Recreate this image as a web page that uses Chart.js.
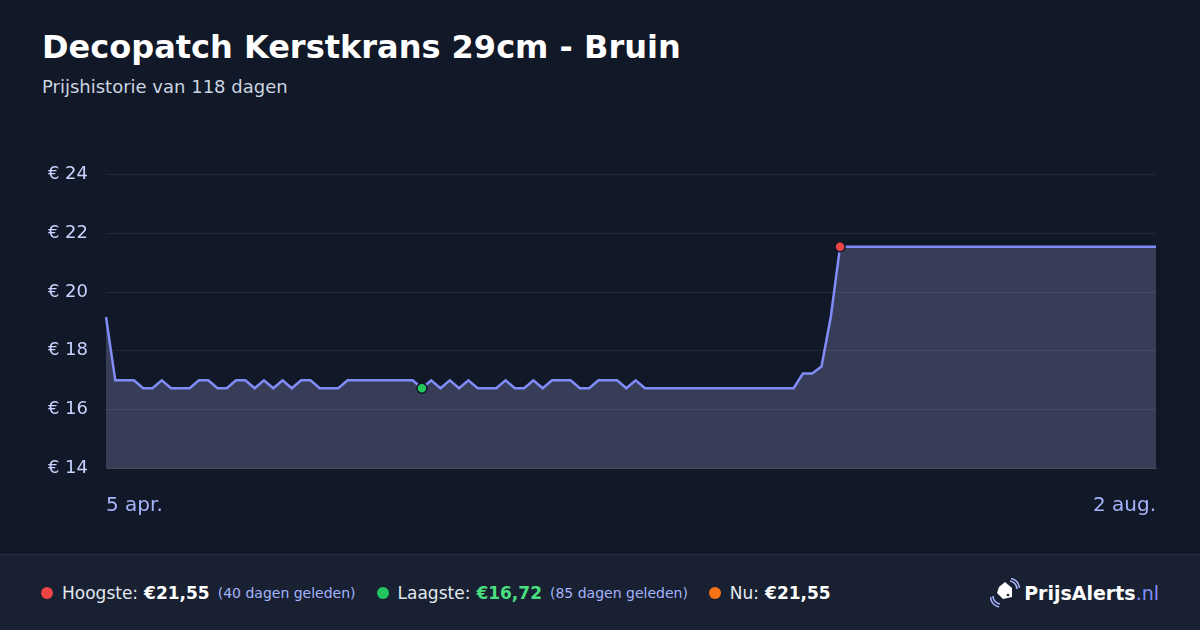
<!DOCTYPE html>
<html>
<head>
<meta charset="utf-8">
<script src="https://cdn.jsdelivr.net/npm/chart.js@4"></script>
<style>
    html, body {
        margin: 0;
        padding: 0;
        width: 1200px;
        height: 630px;
        overflow: hidden;
        background: #111827;
        font-family: "DejaVu Sans", sans-serif;
    }
    .title {
        position: absolute;
        left: 42px;
        top: 28px;
        font-size: 32px;
        font-weight: bold;
        color: #ffffff;
    }
    .subtitle {
        position: absolute;
        left: 42px;
        top: 76px;
        font-size: 18px;
        color: #cbd5e1;
    }
    .chart-box {
        position: absolute;
        left: 0;
        top: 146px;
        width: 1200px;
        height: 384px;
    }
    .footer {
        position: absolute;
        left: 0;
        top: 554px;
        width: 1200px;
        height: 76px;
        background: #182031;
        border-top: 1px solid #252e48;
        box-sizing: border-box;
    }
    .stats {
        position: absolute;
        left: 41px;
        top: 0;
        height: 75px;
        display: flex;
        align-items: center;
        color: #e2e8f0;
        font-size: 17px;
    }
    .stat {
        display: flex;
        align-items: center;
        margin-right: 21px;
        white-space: nowrap;
    }
    .dot {
        width: 12px;
        height: 12px;
        border-radius: 50%;
        margin-right: 9px;
    }
    .stat b {
        color: #ffffff;
        margin-left: 6px;
    }
    .stat .ago {
        font-size: 14px;
        color: #a5b4fc;
        margin-left: 8px;
    }
    .logo {
        position: absolute;
        right: 41px;
        top: 0;
        height: 75px;
        display: flex;
        align-items: center;
        font-size: 19px;
        font-weight: bold;
        color: #ffffff;
    }
    .logo svg {
        margin-right: 4px;
    }
    .logo span {
        font-weight: normal;
        color: #818cf8;
    }
</style>
</head>
<body>
<div class="title">Decopatch Kerstkrans 29cm - Bruin</div>
<div class="subtitle">Prijshistorie van 118 dagen</div>
<div class="chart-box"><canvas id="priceChart" width="1200" height="384"></canvas></div>
<div class="footer">
    <div class="stats">
        <div class="stat"><div class="dot" style="background:#ef4444"></div>Hoogste:<b>€21,55</b><span class="ago">(40 dagen geleden)</span></div>
        <div class="stat"><div class="dot" style="background:#22c55e"></div>Laagste:<b style="color:#4ade80">€16,72</b><span class="ago">(85 dagen geleden)</span></div>
        <div class="stat"><div class="dot" style="background:#f97316"></div>Nu:<b>€21,55</b></div>
    </div>
    <div class="logo">
        <svg width="30" height="30" viewBox="0 0 30 30">
            <path d="M9 9 L15 4 L22 10 L22 19 L13 21 L7 15 Z" fill="#ffffff"/>
            <circle cx="18" cy="17" r="1.3" fill="#182031"/>
            <path d="M20 3 A8 8 0 0 1 27 11" stroke="#a5b4fc" stroke-width="1.6" fill="none"/>
            <path d="M21 0.5 A11 11 0 0 1 29.5 10" stroke="#a5b4fc" stroke-width="1.6" fill="none"/>
            <path d="M3 18 A8 8 0 0 0 10 26" stroke="#a5b4fc" stroke-width="1.6" fill="none"/>
            <path d="M0.5 19 A11 11 0 0 0 9 29" stroke="#a5b4fc" stroke-width="1.6" fill="none"/>
        </svg>
        PrijsAlerts<span>.nl</span>
    </div>
</div>
<script>
    // prijzen per meetpunt, gelezen van de grafiek
    var prices = [
        19.15, 16.99, 16.99, 16.99, 16.72, 16.72, 16.99, 16.72, 16.72, 16.72,
        16.99, 16.99, 16.72, 16.72, 16.99, 16.99, 16.72, 16.99, 16.72, 16.99,
        16.72, 16.99, 16.99, 16.72, 16.72, 16.72, 16.99, 16.99, 16.99, 16.99,
        16.99, 16.99, 16.99, 16.99, 16.72, 16.99, 16.72, 16.99, 16.72, 16.99,
        16.72, 16.72, 16.72, 16.99, 16.72, 16.72, 16.99, 16.72, 16.99, 16.99,
        16.99, 16.72, 16.72, 16.99, 16.99, 16.99, 16.72, 16.99, 16.72, 16.72,
        16.72, 16.72, 16.72, 16.72, 16.72, 16.72, 16.72, 16.72, 16.72, 16.72,
        16.72, 16.72, 16.72, 16.72, 16.72, 17.22, 17.22, 17.46, 19.15, 21.55,
        21.55, 21.55, 21.55, 21.55, 21.55, 21.55, 21.55, 21.55, 21.55, 21.55,
        21.55, 21.55, 21.55, 21.55, 21.55, 21.55, 21.55, 21.55, 21.55, 21.55,
        21.55, 21.55, 21.55, 21.55, 21.55, 21.55, 21.55, 21.55, 21.55, 21.55,
        21.55, 21.55, 21.55, 21.55
    ];
    var startLabel = '5 apr.';
    var endLabel = '2 aug.';
    var yTicks = [14, 16, 18, 20, 22, 24];
    var lowIndex = 34;
    var highIndex = 79;

    var labels = prices.map(function(p, i) {
        if (i === 0) return startLabel;
        if (i === prices.length - 1) return endLabel;
        return '';
    });

    var ctx = document.getElementById('priceChart').getContext('2d');
    var config = {
        type: 'line',
        data: {
            labels: labels,
            datasets: [{
                data: prices,
                borderColor: '#818cf8',
                borderWidth: 2.5,
                backgroundColor: 'rgba(150,150,200,0.3)',
                fill: 'start',
                tension: 0,
                pointRadius: function(c) {
                    return (c.dataIndex === lowIndex || c.dataIndex === highIndex) ? 5 : 0;
                },
                pointBackgroundColor: function(c) {
                    return c.dataIndex === lowIndex ? '#22c55e' : '#ef4444';
                },
                pointBorderColor: '#111827',
                pointBorderWidth: 1.5,
                pointHoverRadius: 0
            }]
        },
        options: {
            responsive: false,
            animation: false,
            layout: {
                padding: { left: 0, right: 44, top: 14, bottom: 0 }
            },
            plugins: {
                legend: { display: false },
                title: { display: false },
                tooltip: { enabled: false }
            },
            scales: {
                x: {
                    grid: { display: false, drawTicks: false },
                    border: { display: true, color: 'rgba(255,255,255,0.15)' },
                    ticks: {
                        autoSkip: false,
                        maxRotation: 0,
                        align: 'inner',
                        padding: 26,
                        color: '#a5b4fc',
                        font: { family: 'DejaVu Sans', size: 20 }
                    },
                    afterFit: function(scale) {
                        scale.height = 62;
                    }
                },
                y: {
                    min: yTicks[0],
                    max: yTicks[yTicks.length - 1],
                    afterBuildTicks: function(scale) {
                        scale.ticks = yTicks.map(function(v) { return { value: v }; });
                    },
                    grid: { color: 'rgba(255,255,255,0.08)', drawTicks: false },
                    border: { display: false },
                    ticks: {
                        padding: 18,
                        color: '#c7d2fe',
                        font: { family: 'DejaVu Sans', size: 18 },
                        callback: function(v) { return '€ ' + v; }
                    },
                    afterFit: function(scale) {
                        scale.width = 106;
                    }
                }
            }
        }
    };
    var priceChart = new Chart(ctx, config);
</script>
</body>
</html>
